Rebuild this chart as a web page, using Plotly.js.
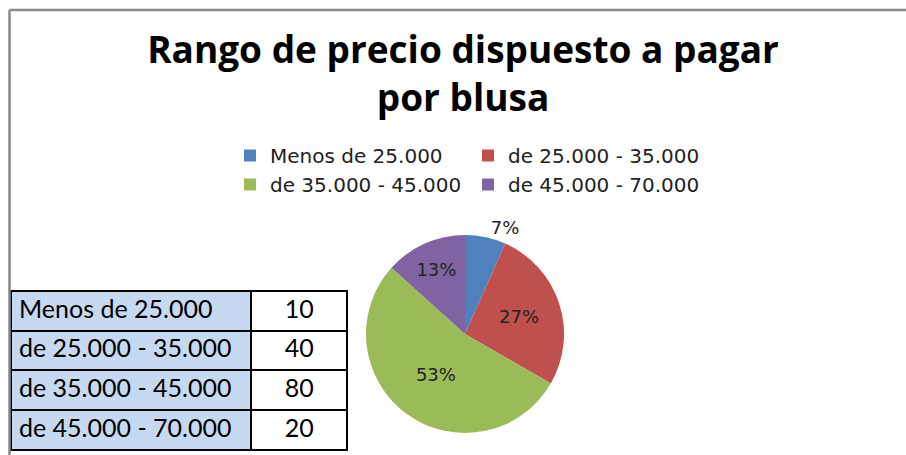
<!DOCTYPE html>
<html>
<head>
<meta charset="utf-8">
<script src="https://cdn.plot.ly/plotly-3.0.1.min.js"></script>
<style>html,body{margin:0;padding:0;background:#fff;}#chart{width:906px;height:455px;}</style>
</head>
<body>
<div id="chart"></div>
<script>
var categories = ["Menos de 25.000", "de 25.000 - 35.000", "de 35.000 - 45.000", "de 45.000 - 70.000"];
var values = [10, 40, 80, 20];
var colors = ["#4F81BD", "#C0504D", "#9BBB59", "#8064A2"];
var textPositions = ["outside", "inside", "inside", "inside"];
var chartTitle = "Rango de precio dispuesto a pagar<br>por blusa";

var W = 906, H = 455;
var ML = 0, MR = 300;          // plot area limited so the legend wraps into two columns
var PW = W - ML - MR;          // plot-area width in px
function px(x) { return (x - ML) / PW; }   // pixel -> paper fraction (x)
function py(y) { return (H - y) / H; }     // pixel -> paper fraction (y)

var pie = {
  type: "pie",
  labels: categories,
  values: values,
  sort: false,
  direction: "clockwise",
  rotation: 0,
  marker: {colors: colors, line: {width: 0}},
  texttemplate: "%{percent:.0%}",
  textposition: textPositions,
  insidetextorientation: "horizontal",
  textfont: {family: "DejaVu Sans", size: 18, color: "#222"},
  outsidetextfont: {family: "DejaVu Sans", size: 18, color: "#222"},
  domain: {x: [px(465 - 99), px(465 + 99)], y: [py(433), py(235)]},
  hoverinfo: "label+value+percent",
  showlegend: true
};

var headerRow = [[categories[0]], [String(values[0])]];
var bodyCols = [categories.slice(1), values.slice(1).map(String)];
var rowH = 39.7;
var table = {
  type: "table",
  columnwidth: [241, 96],
  domain: {x: [px(11), px(348)], y: [py(452), py(291)]},
  header: {
    values: headerRow,
    align: ["left", "center"],
    height: rowH,
    fill: {color: ["#C5D9F1", "#FFFFFF"]},
    line: {color: "#000", width: 2},
    font: {family: "Lato", size: 25, color: "#000"}
  },
  cells: {
    values: bodyCols,
    align: ["left", "center"],
    height: rowH,
    fill: {color: ["#C5D9F1", "#FFFFFF"]},
    line: {color: "#000", width: 2},
    font: {family: "Lato", size: 25, color: "#000"}
  }
};

var layout = {
  width: W, height: H,
  margin: {l: ML, r: MR, t: 0, b: 0, autoexpand: false},
  paper_bgcolor: "#fff",
  title: {
    text: chartTitle,
    font: {family: "Open Sans", size: 37, color: "#000", weight: "bold"},
    x: 463 / W, xanchor: "center",
    xref: "container", yref: "container",
    y: 1 - 63 / H, yanchor: "top"
  },
  legend: {
    orientation: "h",
    x: px(230), xanchor: "left",
    y: py(136), yanchor: "top",
    entrywidth: 193, entrywidthmode: "pixels",
    font: {family: "DejaVu Sans", size: 20, color: "#222"},
    traceorder: "normal"
  },
  shapes: [
    {type: "line", xref: "paper", yref: "paper", x0: px(9.5), x1: px(W + 10), y0: py(10), y1: py(10), line: {color: "#888", width: 2.5}},
    {type: "line", xref: "paper", yref: "paper", x0: px(9.5), x1: px(9.5), y0: py(10), y1: py(H + 10), line: {color: "#888", width: 2.5}}
  ]
};

Plotly.newPlot("chart", [pie, table], layout, {displayModeBar: false, staticPlot: true});
</script>
</body>
</html>
